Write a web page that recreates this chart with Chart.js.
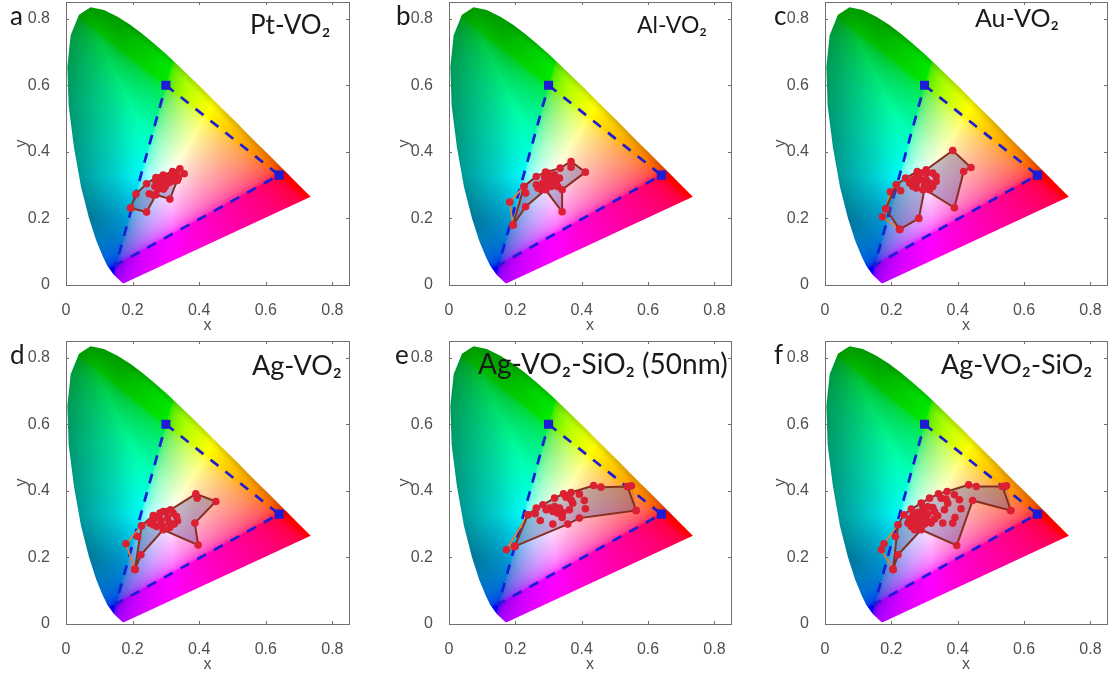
<!DOCTYPE html>
<html>
<head>
<meta charset="utf-8">
<title>CIE gamut panels</title>
<script src="https://cdn.jsdelivr.net/npm/chart.js@4/dist/chart.umd.min.js"></script>
<style>
  html, body { margin: 0; padding: 0; background: #fff; }
  #page { position: relative; width: 1110px; height: 677px; overflow: hidden; filter: blur(0.4px); }
  #page canvas { position: absolute; }
  .letter, .name { position: absolute; font-family: Lato, "Open Sans", sans-serif; color: #1a1a1a; white-space: nowrap; line-height: 1; }
</style>
</head>
<body>
<div id="page"></div>
<script>
  // spectral locus, read along the edge of the coloured area
  var locus = [[0.174, 0.005], [0.171, 0.005], [0.164, 0.011], [0.157, 0.018], [0.144, 0.030], [0.124, 0.058],
    [0.110, 0.087], [0.091, 0.133], [0.069, 0.201], [0.045, 0.295], [0.024, 0.413], [0.008, 0.538], [0.004, 0.655],
    [0.014, 0.750], [0.039, 0.812], [0.074, 0.834], [0.114, 0.826], [0.155, 0.806], [0.193, 0.782], [0.230, 0.754],
    [0.266, 0.724], [0.302, 0.692], [0.337, 0.659], [0.373, 0.625], [0.409, 0.590], [0.444, 0.555], [0.479, 0.520],
    [0.513, 0.487], [0.545, 0.454], [0.575, 0.424], [0.603, 0.397], [0.627, 0.373], [0.666, 0.334], [0.692, 0.308],
    [0.708, 0.292], [0.719, 0.281], [0.726, 0.274], [0.735, 0.265]];
  var primaries = [[0.30, 0.60], [0.64, 0.33], [0.15, 0.06], [0.30, 0.60]];

  var ptEdge = [[0.194, 0.231], [0.21, 0.273], [0.242, 0.304], [0.27, 0.323], [0.292, 0.33], [0.32, 0.341], [0.342, 0.349],
    [0.355, 0.334], [0.334, 0.314], [0.312, 0.258], [0.27, 0.271], [0.242, 0.219], [0.194, 0.231]];
  var ptOuter = [];
  var ptDots = [[0.267, 0.296], [0.277, 0.311], [0.288, 0.296], [0.298, 0.306], [0.308, 0.316], [0.288, 0.316], [0.298, 0.296],
    [0.317, 0.311], [0.277, 0.288], [0.332, 0.331], [0.337, 0.321], [0.322, 0.326], [0.272, 0.301], [0.298, 0.321],
    [0.293, 0.288], [0.25, 0.274], [0.262, 0.27], [0.282, 0.303], [0.307, 0.306], [0.283, 0.323], [0.312, 0.326], [0.27, 0.312]];

  var alEdge = [[0.193, 0.18], [0.231, 0.235], [0.291, 0.286], [0.341, 0.22], [0.341, 0.286], [0.411, 0.339], [0.368, 0.371],
    [0.335, 0.351], [0.291, 0.339], [0.263, 0.326], [0.226, 0.296], [0.193, 0.18]];
  var alOuter = [[0.193, 0.18], [0.183, 0.249], [0.226, 0.296]];
  var alDots = [[0.231, 0.276], [0.368, 0.354], [0.263, 0.301], [0.268, 0.291], [0.278, 0.286], [0.293, 0.291], [0.283, 0.306],
    [0.293, 0.316], [0.303, 0.326], [0.313, 0.316], [0.303, 0.306], [0.323, 0.311], [0.318, 0.331], [0.298, 0.336],
    [0.333, 0.321], [0.288, 0.326], [0.308, 0.296], [0.328, 0.296]];

  var auEdge = [[0.225, 0.167], [0.283, 0.2], [0.3, 0.288], [0.39, 0.232], [0.418, 0.341], [0.44, 0.353], [0.385, 0.404],
    [0.305, 0.346], [0.278, 0.341], [0.243, 0.321], [0.215, 0.301], [0.183, 0.229], [0.225, 0.167]];
  var auOuter = [[0.215, 0.301], [0.197, 0.28], [0.183, 0.229], [0.173, 0.205], [0.225, 0.167]];
  var auDots = [[0.228, 0.283], [0.255, 0.306], [0.265, 0.316], [0.275, 0.326], [0.285, 0.336], [0.305, 0.336], [0.325, 0.336],
    [0.335, 0.326], [0.335, 0.311], [0.325, 0.296], [0.315, 0.286], [0.295, 0.286], [0.275, 0.291], [0.265, 0.296],
    [0.29, 0.316], [0.305, 0.316], [0.315, 0.306], [0.275, 0.306], [0.3, 0.3]];

  var agEdge = [[0.207, 0.164], [0.225, 0.208], [0.292, 0.283], [0.397, 0.237], [0.387, 0.303], [0.45, 0.368], [0.39, 0.391],
    [0.314, 0.343], [0.292, 0.338], [0.262, 0.326], [0.227, 0.295], [0.207, 0.164]];
  var agOuter = [[0.207, 0.164], [0.18, 0.241], [0.227, 0.295]];
  var agDots = [[0.215, 0.263], [0.394, 0.378], [0.252, 0.303], [0.262, 0.313], [0.272, 0.323], [0.282, 0.333], [0.302, 0.338],
    [0.322, 0.333], [0.332, 0.323], [0.335, 0.31], [0.325, 0.3], [0.312, 0.29], [0.272, 0.293], [0.262, 0.298], [0.285, 0.31],
    [0.305, 0.318], [0.31, 0.305], [0.29, 0.295], [0.28, 0.32]];

  var ag50Edge = [[0.198, 0.233], [0.238, 0.328], [0.263, 0.348], [0.283, 0.358], [0.318, 0.378], [0.345, 0.391], [0.368, 0.395],
    [0.436, 0.416], [0.458, 0.411], [0.538, 0.413], [0.564, 0.341], [0.393, 0.318], [0.358, 0.3], [0.198, 0.233]];
  var ag50Outer = [[0.198, 0.233], [0.173, 0.223], [0.238, 0.328]];
  var ag50Extra = [[0.538, 0.413], [0.55, 0.415], [0.564, 0.341]];
  var ag50Dots = [[0.275, 0.311], [0.313, 0.3], [0.26, 0.331], [0.303, 0.348], [0.318, 0.353], [0.333, 0.348], [0.313, 0.338],
    [0.293, 0.343], [0.328, 0.333], [0.341, 0.32], [0.363, 0.343], [0.373, 0.363], [0.368, 0.373], [0.353, 0.381],
    [0.393, 0.39], [0.408, 0.371], [0.411, 0.346], [0.343, 0.335], [0.323, 0.343]];

  var agsEdge = [[0.205, 0.164], [0.22, 0.208], [0.29, 0.283], [0.397, 0.236], [0.445, 0.371], [0.56, 0.341], [0.535, 0.413],
    [0.456, 0.413], [0.433, 0.418], [0.368, 0.398], [0.342, 0.391], [0.315, 0.378], [0.29, 0.363], [0.26, 0.345],
    [0.238, 0.328], [0.22, 0.298], [0.205, 0.164]];
  var agsOuter = [[0.205, 0.164], [0.17, 0.223], [0.178, 0.241], [0.22, 0.298]];
  var agsExtra = [[0.535, 0.413], [0.547, 0.415], [0.56, 0.341]];
  var agsDots = [[0.212, 0.263], [0.36, 0.343], [0.355, 0.303], [0.385, 0.303], [0.392, 0.32], [0.41, 0.346], [0.405, 0.373],
    [0.39, 0.388], [0.37, 0.363], [0.35, 0.378], [0.365, 0.375], [0.25, 0.303], [0.26, 0.293], [0.27, 0.283], [0.285, 0.293],
    [0.3, 0.3], [0.31, 0.31], [0.32, 0.303], [0.33, 0.315], [0.34, 0.325], [0.33, 0.338], [0.325, 0.35], [0.31, 0.352],
    [0.295, 0.345], [0.28, 0.335], [0.265, 0.325], [0.255, 0.315], [0.27, 0.305], [0.285, 0.315], [0.3, 0.322], [0.31, 0.33],
    [0.275, 0.32], [0.295, 0.33]];

  var tickValues = [0, 0.2, 0.4, 0.6, 0.8];
  var AXIS_MAX = 0.85;
  var BLUE = '#1c1cd6';
  var RED = '#dc2034';
  var BROWN = '#86301f';
  var ORANGE = '#e0803a';

  var panels = [
    { letter: 'a', lx: 10, ly: 2, name: 'Pt-VO₂', fs: 26, nx: 250, ny: 11, left: 0, top: 0, w: 370, pr: 21, edge: ptEdge, outer: ptOuter, extra: [], dots: ptDots },
    { letter: 'b', lx: 396, ly: 2, name: 'Al-VO₂', fs: 23, nx: 637, ny: 13, left: 383, top: 0, w: 370, pr: 22, edge: alEdge, outer: alOuter, extra: [], dots: alDots },
    { letter: 'c', lx: 774, ly: 2, name: 'Au-VO₂', fs: 25, nx: 975, ny: 5, left: 759, top: 0, w: 351, pr: 3, edge: auEdge, outer: auOuter, extra: [], dots: auDots },
    { letter: 'd', lx: 10, ly: 341, name: 'Ag-VO₂', fs: 27, nx: 252, ny: 351, left: 0, top: 339, w: 370, pr: 21, edge: agEdge, outer: agOuter, extra: [], dots: agDots },
    { letter: 'e', lx: 395, ly: 341, name: 'Ag-VO₂-SiO₂ (50nm)', fs: 28, nx: 478, ny: 349, left: 383, top: 339, w: 370, pr: 22, edge: ag50Edge, outer: ag50Outer, extra: ag50Extra, dots: ag50Dots },
    { letter: 'f', lx: 774, ly: 341, name: 'Ag-VO₂-SiO₂', fs: 27, nx: 941, ny: 350, left: 759, top: 339, w: 351, pr: 3, edge: agsEdge, outer: agsOuter, extra: agsExtra, dots: agsDots }
  ];

  function gamma(v) {
    return v <= 0.0031308 ? 12.92 * v : 1.055 * Math.pow(v, 1 / 2.4) - 0.055;
  }

  function segDist(px, py, a, b) {
    var dx = b[0] - a[0], dy = b[1] - a[1];
    var t = ((px - a[0]) * dx + (py - a[1]) * dy) / (dx * dx + dy * dy);
    t = Math.max(0, Math.min(1, t));
    var qx = a[0] + t * dx - px, qy = a[1] + t * dy - py;
    return Math.sqrt(qx * qx + qy * qy);
  }

  function edgeDist(x, y, list) {
    var d = 1;
    for (var k = 0; k < list.length - 1; k++) d = Math.min(d, segDist(x, y, list[k], list[k + 1]));
    return d;
  }

  // colour field of the diagram; the green/blue rim goes darker like the original
  function buildField(size) {
    var cv = document.createElement('canvas');
    cv.width = size; cv.height = size;
    var c = cv.getContext('2d');
    var img = c.createImageData(size, size);
    var rim = locus.slice(8, 25);
    var rimRight = locus.slice(18, 33);
    for (var j = 0; j < size; j++) {
      var y = AXIS_MAX * (1 - (j + 0.5) / size);
      if (y < 0.002) y = 0.002;
      for (var i = 0; i < size; i++) {
        var x = AXIS_MAX * (i + 0.5) / size;
        var X = x / y, Z = (1 - x - y) / y;
        var r = 3.2406 * X - 1.5372 - 0.4986 * Z;
        var g = -0.9689 * X + 1.8758 + 0.0415 * Z;
        var b = 0.0557 * X - 0.2040 + 1.0570 * Z;
        r = Math.max(0, r); g = Math.max(0, g); b = Math.max(0, b);
        var m = Math.max(r, g, b) || 1;
        // paler middle than plain sRGB, as in the original
        var rv = Math.pow(gamma(r / m), 0.7), gv = Math.pow(gamma(g / m), 0.7), bv = Math.pow(gamma(b / m), 0.7);
        // purples lean to magenta
        rv = Math.pow(rv, 1 - 0.4 * Math.max(0, 1 - gv / 0.3));
        var fade = Math.max(0, Math.min(1, (0.36 - x) / 0.2));
        var shade = (1 - 0.4 * fade * (1 - Math.min(1, edgeDist(x, y, rim) / 0.2))) * (0.86 + 0.14 * Math.min(1, edgeDist(x, y, rimRight) / 0.02));
        var p = (j * size + i) * 4;
        img.data[p] = 255 * rv * shade;
        img.data[p + 1] = 255 * gv * shade;
        img.data[p + 2] = 255 * bv * shade;
        img.data[p + 3] = 255;
      }
    }
    c.putImageData(img, 0, 0);
    return cv;
  }

  var field = buildField(300);

  var gamutPlugin = {
    id: 'gamut',
    beforeDatasetsDraw: function (chart) {
      var ctx = chart.ctx, sx = chart.scales.x, sy = chart.scales.y;
      ctx.save();
      ctx.beginPath();
      locus.forEach(function (pt, i) {
        var px = sx.getPixelForValue(pt[0]), py = sy.getPixelForValue(pt[1]);
        if (i) ctx.lineTo(px, py); else ctx.moveTo(px, py);
      });
      ctx.closePath();
      ctx.clip();
      ctx.drawImage(field, sx.left, sy.top, sx.width, sy.height);
      ctx.restore();
    }
  };

  var framePlugin = {
    id: 'frame',
    afterDraw: function (chart) {
      var ctx = chart.ctx, sx = chart.scales.x, sy = chart.scales.y;
      ctx.save();
      ctx.strokeStyle = '#707070';
      ctx.lineWidth = 1;
      ctx.strokeRect(Math.round(sx.left) + 0.5, Math.round(sy.top) + 0.5, Math.round(sx.width), Math.round(sy.height));
      ctx.beginPath();
      tickValues.forEach(function (v) {
        var px = Math.round(sx.getPixelForValue(v)) + 0.5, py = Math.round(sy.getPixelForValue(v)) + 0.5;
        ctx.moveTo(px, sy.bottom); ctx.lineTo(px, sy.bottom - 3);
        ctx.moveTo(px, sy.top); ctx.lineTo(px, sy.top + 3);
        ctx.moveTo(sx.left, py); ctx.lineTo(sx.left + 3, py);
        ctx.moveTo(sx.right, py); ctx.lineTo(sx.right - 3, py);
      });
      ctx.stroke();
      ctx.restore();
    }
  };

  function xy(list) {
    return list.map(function (p) { return { x: p[0], y: p[1] }; });
  }

  function axis(label, fit, padding) {
    return {
      type: 'linear',
      min: 0,
      max: AXIS_MAX,
      grid: { display: false },
      border: { display: false },
      afterBuildTicks: function (s) { s.ticks = tickValues.map(function (v) { return { value: v }; }); },
      afterFit: function (s) {
        s.paddingTop = s.paddingBottom = s.paddingLeft = s.paddingRight = 0;
        fit(s);
      },
      ticks: {
        color: '#505050',
        padding: 8,
        maxRotation: 0,
        autoSkip: false,
        font: { family: '"Liberation Sans", Arial, sans-serif', size: 16 },
        callback: function (v) { return v === 0 ? '0' : v.toFixed(1); }
      },
      title: {
        display: true,
        text: label,
        color: '#505050',
        padding: padding,
        font: { family: '"Liberation Sans", Arial, sans-serif', size: 16 }
      }
    };
  }

  function addPanel(page, p) {
    var canvas = document.createElement('canvas');
    canvas.style.left = p.left + 'px';
    canvas.style.top = p.top + 'px';
    canvas.style.width = p.w + 'px';
    canvas.style.height = '338px';
    canvas.width = p.w;
    canvas.height = 338;
    page.appendChild(canvas);

    [['letter', p.letter, p.lx, p.ly, 26], ['name', p.name, p.nx, p.ny, p.fs]].forEach(function (t) {
      var el = document.createElement('div');
      el.className = t[0];
      el.textContent = t[1];
      el.style.left = t[2] + 'px';
      el.style.top = t[3] + 'px';
      el.style.fontSize = t[4] + 'px';
      page.appendChild(el);
    });

    var redPoints = { pointBackgroundColor: RED, pointBorderColor: RED, pointRadius: 3.8, pointBorderWidth: 0 };
    new Chart(canvas, {
      type: 'scatter',
      plugins: [gamutPlugin, framePlugin],
      data: {
        datasets: [
          Object.assign({ label: 'dots', data: xy(p.dots), showLine: false, order: 1 }, redPoints),
          Object.assign({ label: 'outer', data: xy(p.outer), showLine: true, fill: false, borderColor: ORANGE, borderWidth: 1.8, order: 3 }, redPoints),
          Object.assign({ label: 'outer 2', data: xy(p.extra), showLine: true, fill: false, borderColor: ORANGE, borderWidth: 1.8, order: 3 }, redPoints),
          Object.assign({ label: 'edge', data: xy(p.edge), showLine: true, fill: 'shape', backgroundColor: 'rgba(90,90,150,0.38)', borderColor: BROWN, borderWidth: 2, order: 2 }, redPoints),
          {
            label: 'sRGB',
            data: xy(primaries),
            showLine: true,
            fill: false,
            order: 4,
            borderColor: BLUE,
            borderWidth: 2.7,
            borderDash: [10, 9],
            pointStyle: 'rect',
            pointRadius: [4.5, 4.5, 1, 0],
            pointBackgroundColor: BLUE,
            pointBorderColor: BLUE
          }
        ]
      },
      options: {
        responsive: false,
        animation: false,
        layout: { autoPadding: false, padding: { top: 2, right: p.pr, bottom: 0, left: 0 } },
        plugins: { legend: { display: false }, tooltip: { enabled: false } },
        scales: {
          x: axis('x', function (s) { s.height = 53; }, { top: 4, bottom: 3 }),
          y: axis('y', function (s) { s.width = 66; }, { top: 12, bottom: 2 })
        }
      }
    });
  }

  var page = document.getElementById('page');
  panels.forEach(function (p) { addPanel(page, p); });
</script>
</body>
</html>
